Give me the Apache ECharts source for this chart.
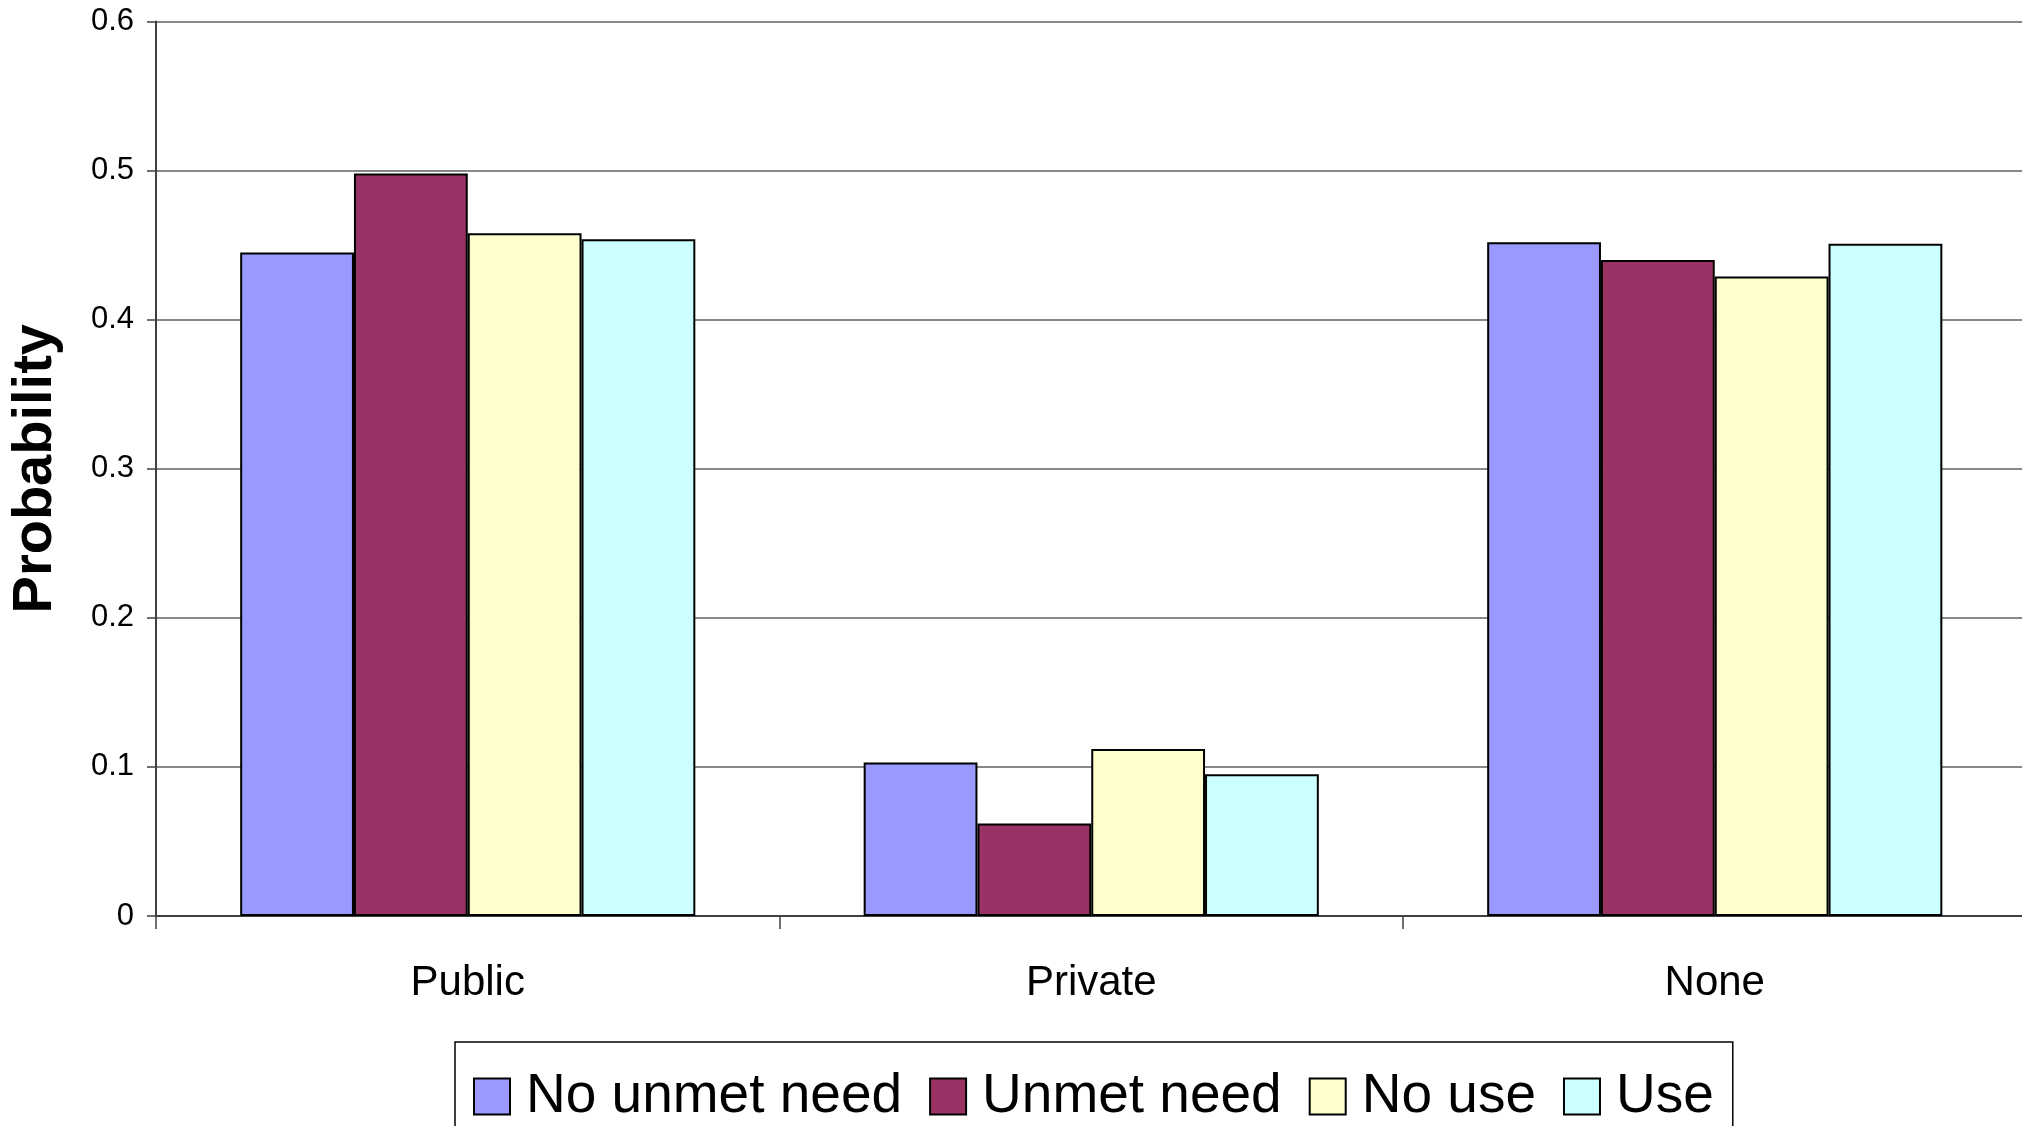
<!DOCTYPE html>
<html>
<head>
<meta charset="utf-8">
<title>Probability by coverage type</title>
<script src="https://cdn.jsdelivr.net/npm/echarts@6/dist/echarts.min.js"></script>
<style>
  html, body { margin: 0; padding: 0; background: #ffffff; overflow: hidden; }
  /* canvas is a few pixels wider than the page so the plot runs off the right edge */
  #chart { width: 2030px; height: 1126px; }
</style>
</head>
<body>
<div id="chart"></div>
<script>
// Coverage categories along the x axis
const categories = ['Public', 'Private', 'None'];

// Series names (legend order) and their probabilities per category
const seriesNames = ['No unmet need', 'Unmet need', 'No use', 'Use'];
const noUnmetNeed = [0.445, 0.103, 0.452];
const unmetNeed   = [0.498, 0.062, 0.440];
const noUse       = [0.458, 0.112, 0.429];
const use         = [0.454, 0.095, 0.451];

// Y axis range
const yMin = 0;
const yMax = 0.6;
const yStep = 0.1;

const seriesValues = [noUnmetNeed, unmetNeed, noUse, use];
const seriesColors = ['#9999FF', '#993366', '#FFFFCC', '#CCFFFF'];
const FONT = '"Liberation Sans", Arial, Helvetica, sans-serif';

const chart = echarts.init(document.getElementById('chart'), null, { renderer: 'canvas' });

chart.setOption({
  backgroundColor: '#ffffff',
  animation: false,
  grid: { left: 156, top: 21.5, width: 1870.5, bottom: 210, containLabel: false },
  legend: {
    left: 455,
    top: 1042,
    orient: 'horizontal',
    padding: [27, 19, 30, 18],
    itemGap: 27,
    itemWidth: 36,
    itemHeight: 36,
    borderColor: '#000000',
    borderWidth: 1.5,
    icon: 'rect',
    textStyle: { fontFamily: FONT, fontSize: 55, color: '#000000', padding: [0, 0, 0, 11] },
    data: seriesNames
  },
  xAxis: {
    type: 'category',
    data: categories,
    boundaryGap: true,
    axisLine: { show: true, lineStyle: { color: '#404040', width: 2 } },
    axisTick: { show: true, length: 13, alignWithLabel: false, lineStyle: { color: '#404040', width: 1.5 } },
    axisLabel: { fontFamily: FONT, fontSize: 42, color: '#000000', margin: 46 },
    splitLine: { show: false }
  },
  yAxis: {
    type: 'value',
    min: yMin,
    max: yMax,
    interval: yStep,
    name: 'Probability',
    nameLocation: 'middle',
    nameGap: 92,
    nameTextStyle: { fontFamily: FONT, fontSize: 56, fontWeight: 'bold', color: '#000000' },
    axisLine: { show: true, lineStyle: { color: '#404040', width: 2 } },
    axisTick: { show: true, length: 9, lineStyle: { color: '#404040', width: 1.5 } },
    axisLabel: { fontFamily: FONT, fontSize: 31, color: '#000000', margin: 22 },
    splitLine: { show: true, lineStyle: { color: '#606060', width: 1.5 } }
  },
  series: seriesNames.map((name, i) => ({
    name: name,
    type: 'bar',
    data: seriesValues[i],
    barGap: '0%',
    barCategoryGap: '27%',
    itemStyle: { color: seriesColors[i], borderColor: '#000000', borderWidth: 2 }
  }))
});
</script>
</body>
</html>
